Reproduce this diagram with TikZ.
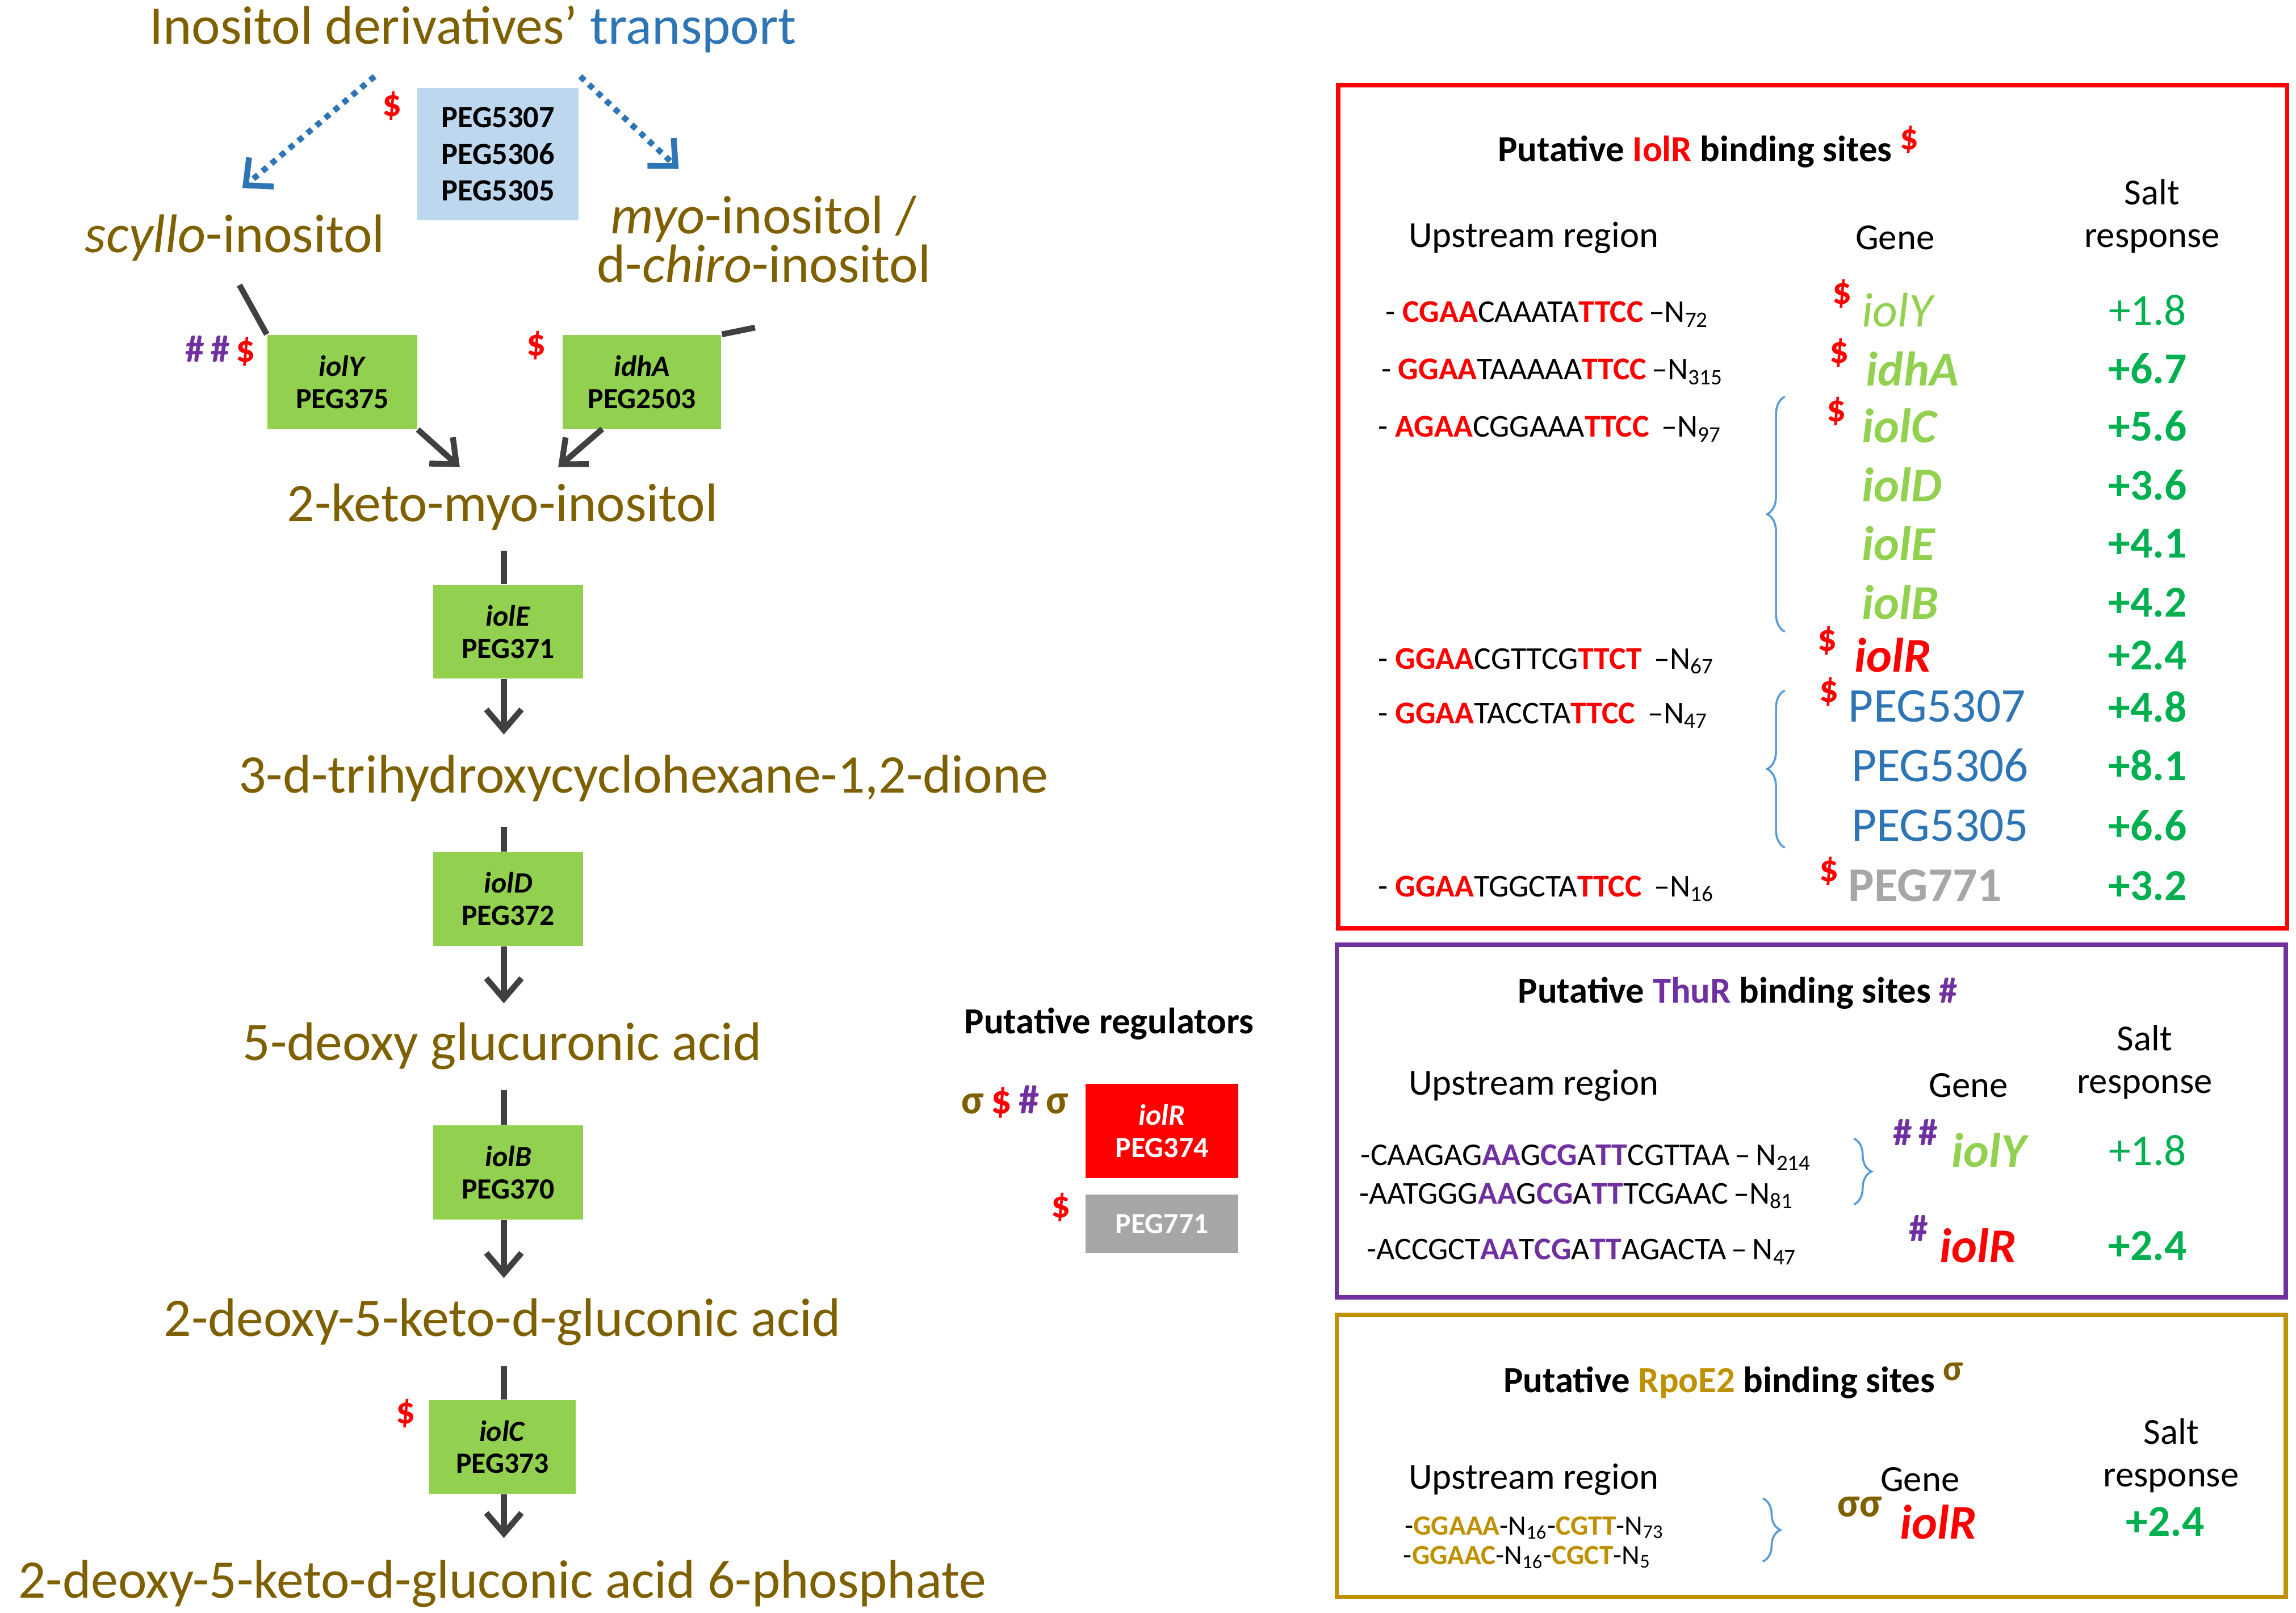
\documentclass[tikz,border=0pt]{standalone}
\usepackage{fontspec}
\setmainfont{Carlito}
\usetikzlibrary{arrows.meta,decorations.pathreplacing}
\definecolor{olive}{RGB}{127,96,0}
\definecolor{gold}{RGB}{191,144,0}
\definecolor{gfill}{RGB}{146,208,80}
\definecolor{vgreen}{RGB}{0,176,80}
\definecolor{tblue}{RGB}{46,117,182}
\definecolor{lblue}{RGB}{189,215,238}
\definecolor{purp}{RGB}{112,48,160}
\definecolor{dgray}{RGB}{64,64,64}
\definecolor{mgray}{RGB}{166,166,166}
\definecolor{brblue}{RGB}{91,155,213}
\newcommand{\fs}[1]{\fontsize{#1}{#1}\selectfont}
\newcommand{\R}[1]{\textcolor{red}{\textbf{#1}}}
\newcommand{\Pu}[1]{\textcolor{purp}{\textbf{#1}}}
\newcommand{\Go}[1]{\textcolor{gold}{\textbf{#1}}}
\newcommand{\sub}[1]{\textsubscript{#1}}
\begin{document}
\begin{tikzpicture}[x=0.5pt,y=-0.5pt,
  lab/.style={text=olive,font=\fs{18.5}},
  enz/.style={fill=gfill,minimum width=51pt,minimum height=32pt,align=center,font=\fs{10}\bfseries,inner sep=0pt},
  pstep/.style={draw=dgray,line width=2pt},
  arr/.style={draw=dgray,line width=2pt,-{Straight Barb[length=7pt,width=12pt,line width=2pt]}},
  darr/.style={draw=tblue,line width=2pt,dotted,-{Straight Barb[length=7pt,width=13pt,line width=2pt]}},
  seq/.style={anchor=west,font=\fs{10.8},inner sep=0pt},
  gene/.style={anchor=west,font=\fs{16.5},inner sep=0pt},
  gi/.style={anchor=west,font=\fs{16.5}\itshape,inner sep=0pt},
  gb/.style={anchor=west,font=\fs{16.5}\itshape\bfseries,inner sep=0pt},
  val/.style={font=\fs{15},text=vgreen,inner sep=0pt},
  vb/.style={font=\fs{15}\bfseries,text=vgreen,inner sep=0pt},
  hdr/.style={font=\fs{12.5},inner sep=0pt,align=center},
  ttl/.style={font=\fs{12.5}\bfseries,inner sep=0pt},
  sym/.style={font=\fs{13}\bfseries,inner sep=0pt},
  brc/.style={draw=brblue,line width=0.7pt,decorate,decoration={brace,amplitude=6pt}}]
\useasboundingbox (0,0) rectangle (1563,1098);
% ---- left pathway
\node[lab] (title) at (322,20) {Inositol derivatives’ \textcolor{tblue}{transport}};
\node[fill=lblue,minimum width=55pt,minimum height=45pt,align=center,font=\fs{10.5}\bfseries,inner sep=0pt] (tr) at (339,105) {PEG5307\\[2pt]PEG5306\\[2pt]PEG5305};
\node[sym,text=red] (d1) at (267,72) {\$};
\coordinate (ta) at (255,52); \coordinate (tb) at (395,52);
\node[lab] (scy) at (160,162) {\textit{scyllo}-inositol};
\node[lab,align=center] (myo) at (520,163) {\textit{myo}-inositol /\\[-2pt]d-\textit{chiro}-inositol};
\draw[darr] (ta) -- (165,128) coordinate (sa);
\draw[darr] (tb) -- (462,115) coordinate (ma);
\node[enz] (iolY) at (233,260) {\textit{iolY}\\[1pt]PEG375};
\node[enz,minimum width=54pt] (idhA) at (437,260) {\textit{idhA}\\[1pt]PEG2503};
\node[sym] (s2) at (150,239) {\textcolor{purp}{\#\,\#}\,\textcolor{red}{\$}};
\node[sym,text=red] (s3) at (365,235) {\$};
\coordinate (sl) at (163,194); \coordinate (ml) at (514,223);
\draw[pstep] (sl) -- (iolY.north west);
\draw[pstep] (ml) -- (idhA.north east);
\node[lab] (k1) at (342,345) {2-keto-myo-inositol};
\draw[arr] (iolY.south east) -- (313,318);
\draw[arr] (410,292) -- (380,318);
\node[enz] (iolE) at (346,430) {\textit{iolE}\\[1pt]PEG371};
\node[lab] (k2) at (438,530) {3-d-trihydroxycyclohexane-1,2-dione};
\node[enz] (iolD) at (346,612) {\textit{iolD}\\[1pt]PEG372};
\node[lab] (k3) at (342,712) {5-deoxy glucuronic acid};
\node[enz] (iolB) at (346,798) {\textit{iolB}\\[1pt]PEG370};
\node[lab] (k4) at (342,900) {2-deoxy-5-keto-d-gluconic acid};
\node[enz,minimum width=50pt] (iolC) at (342,985) {\textit{iolC}\\[1pt]PEG373};
\node[sym,text=red] (s4) at (276,962) {\$};
\node[lab] (k5) at (342,1078) {2-deoxy-5-keto-d-gluconic acid 6-phosphate};
\draw[pstep] (343,375) -- (iolE.north -| 343,0);
\draw[arr] (iolE.south -| 343,0) -- (343,500);
\draw[pstep] (343,563) -- (iolD.north -| 343,0);
\draw[arr] (iolD.south -| 343,0) -- (343,683);
\draw[pstep] (343,742) -- (iolB.north -| 343,0);
\draw[arr] (iolB.south -| 343,0) -- (343,870);
\draw[pstep] (343,930) -- (iolC.north -| 343,0);
\draw[arr] (iolC.south -| 343,0) -- (343,1047);
% ---- regulators
\node[ttl] (reg) at (755,697) {Putative regulators};
\node[sym,font=\fs{14}\bfseries] (rs) at (691,750) {\textcolor{olive}{σ}\,\textcolor{red}{\$}\,\textcolor{purp}{\#}\,\textcolor{olive}{σ}};
\node[fill=red,text=white,minimum width=52pt,minimum height=32pt,align=center,font=\fs{10}\bfseries,inner sep=0pt] (iolR) at (791,770) {\textit{iolR}\\[1pt]PEG374};
\node[sym,text=red] (rs2) at (722,822) {\$};
\node[fill=mgray,text=white,minimum width=52pt,minimum height=20pt,font=\fs{10}\bfseries,inner sep=0pt] (p771) at (791,833) {PEG771};
% ---- IolR box
\node[draw=red,line width=1.5pt,minimum width=323pt,minimum height=287pt,inner sep=0pt] (bR) at (1234,345) {};
\node[ttl] (tR) at (1163,100) {Putative \textcolor{red}{IolR} binding sites \raisebox{4pt}{\textcolor{red}{\$}}};
\node[hdr] (hR1) at (1044,162) {Upstream region};
\node[hdr] (hR2) at (1290,162) {Gene};
\node[hdr] (hR3) at (1465,147) {Salt\\[2pt]response};
\node[seq] (q1) at (943,214) {- \R{CGAA}CAAATA\R{TTCC}\,–N\sub{72}};
\node[seq] (q2) at (940,253) {- \R{GGAA}TAAAAA\R{TTCC}\,–N\sub{315}};
\node[seq] (q3) at (938,292) {- \R{AGAA}CGGAAA\R{TTCC}\ \,–N\sub{97}};
\node[seq] (q4) at (938,450) {- \R{GGAA}CGTTCG\R{TTCT}\ \,–N\sub{67}};
\node[seq] (q5) at (938,487) {- \R{GGAA}TACCTA\R{TTCC}\ \,–N\sub{47}};
\node[seq] (q6) at (938,605) {- \R{GGAA}TGGCTA\R{TTCC}\ \,–N\sub{16}};
\draw[brc] (1215,430) -- (1215,270);
\draw[brc] (1215,577) -- (1215,470);
\node[gi,text=gfill] (gY) at (1267,211) {iolY};
\node[gb,text=gfill] (gA) at (1270,251) {idhA};
\node[gb,text=gfill] (gC) at (1267,290) {iolC};
\node[gb,text=gfill] (gD) at (1267,330) {iolD};
\node[gb,text=gfill] (gE) at (1267,370) {iolE};
\node[gb,text=gfill] (gB) at (1267,410) {iolB};
\node[gb,text=red] (gR) at (1262,446) {iolR};
\node[sym,text=red] at (1254,200) {\$};
\node[sym,text=red] at (1252,240) {\$};
\node[sym,text=red] at (1250,280) {\$};
\node[sym,text=red] at (1244,436) {\$};
\node[val] at (1462,211) {+1.8};
\node[vb] at (1462,251) {+6.7};
\node[vb] at (1462,290) {+5.6};
\node[vb] at (1462,330) {+3.6};
\node[vb] at (1462,370) {+4.1};
\node[vb] at (1462,410) {+4.2};
\node[vb] at (1462,446) {+2.4};
\node[gene,text=tblue] (gP7) at (1258,481) {PEG5307};
\node[gene,text=tblue] (gP6) at (1260,521) {PEG5306};
\node[gene,text=tblue] (gP5) at (1260,562) {PEG5305};
\node[gene,text=mgray,font=\fs{16.5}\bfseries] (gP1) at (1258,603) {PEG771};
\node[sym,text=red] at (1245,471) {\$};
\node[sym,text=red] at (1245,593) {\$};
\node[vb] at (1462,481) {+4.8};
\node[vb] at (1462,521) {+8.1};
\node[vb] at (1462,562) {+6.6};
\node[vb] at (1462,603) {+3.2};
% ---- ThuR box
\node[draw=purp,line width=1.5pt,minimum width=323pt,minimum height=120pt,inner sep=0pt] (bT) at (1233,763) {};
\node[ttl] (tT) at (1183,676) {Putative \textcolor{purp}{ThuR} binding sites \textcolor{purp}{\#}};
\node[hdr] (hT1) at (1044,739) {Upstream region};
\node[hdr] (hT2) at (1340,739) {Gene};
\node[hdr] (hT3) at (1460,723) {Salt\\[2pt]response};
\node[seq] (t1) at (926,788) {-CAAGAG\Pu{AA}G\Pu{CG}A\Pu{TT}CGTTAA\,–\,N\sub{214}};
\node[seq] (t2) at (925,814) {-AATGGG\Pu{AA}G\Pu{CG}A\Pu{TT}TCGAAC\,–N\sub{81}};
\node[seq] (t3) at (930,852) {-ACCGCT\Pu{AA}T\Pu{CG}A\Pu{TT}AGACTA\,–\,N\sub{47}};
\draw[brc] (1262,775) -- (1262,820);
\node[sym,text=purp] at (1304,771) {\#\,\#};
\node[gb,text=gfill] (gT1) at (1328,783) {iolY};
\node[val] at (1462,783) {+1.8};
\node[sym,text=purp] at (1306,836) {\#};
\node[gb,text=red] (gT2) at (1320,848) {iolR};
\node[vb] at (1462,848) {+2.4};
% ---- RpoE2 box
\node[draw=gold,line width=1.5pt,minimum width=323pt,minimum height=96pt,inner sep=0pt] (bG) at (1233,991) {};
\node[ttl] (tG) at (1180,940) {Putative \textcolor{gold}{RpoE2} binding sites \raisebox{4pt}{\textcolor{olive}{σ}}};
\node[hdr] (hG1) at (1044,1007) {Upstream region};
\node[hdr] (hG2) at (1307,1007) {Gene};
\node[hdr] (hG3) at (1478,991) {Salt\\[2pt]response};
\node[seq,font=\fs{9.5}] (r1) at (956,1040) {-\Go{GGAAA}-N\sub{16}-\Go{CGTT}-N\sub{73}};
\node[seq,font=\fs{9.5}] (r2) at (955,1060) {-\Go{GGAAC}-N\sub{16}-\Go{CGCT}-N\sub{5}};
\draw[brc] (1200,1020) -- (1200,1063);
\node[sym,text=olive,font=\fs{14}\bfseries] at (1266,1026) {σσ};
\node[gb,text=red] (gG) at (1293,1036) {iolR};
\node[vb] at (1474,1036) {+2.4};
\end{tikzpicture}
\end{document}
